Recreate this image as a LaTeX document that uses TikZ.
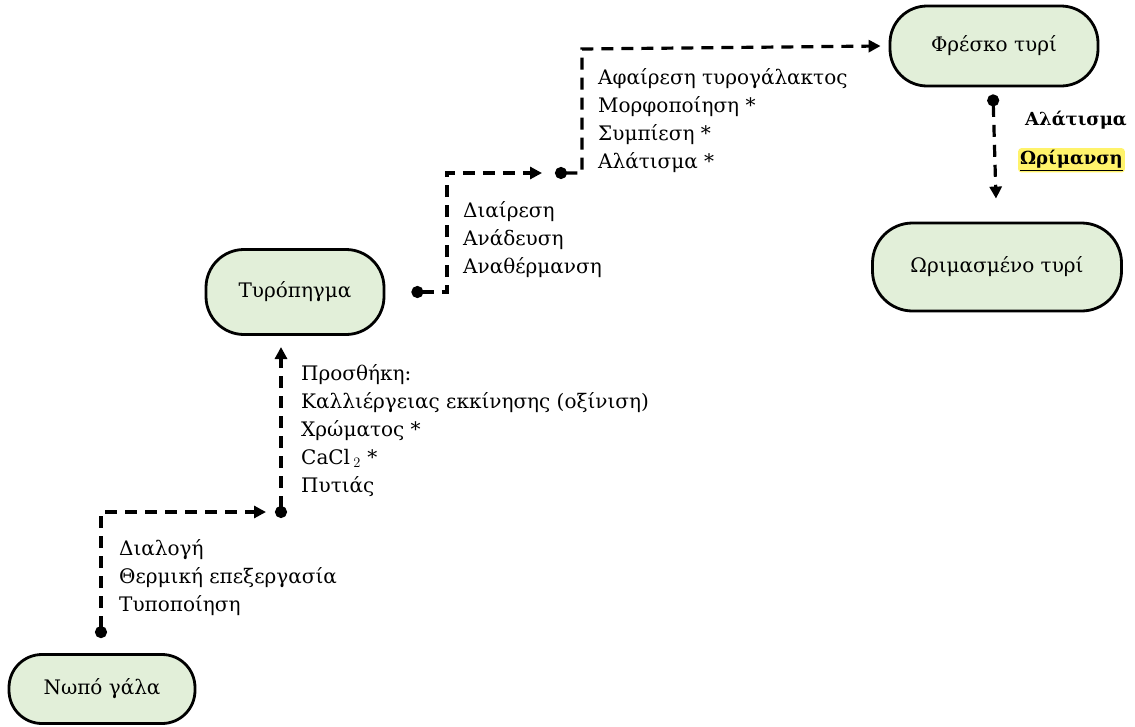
\documentclass[tikz,border=0pt]{standalone}
\usepackage{fontspec}
\setmainfont{DejaVu Serif}
\usetikzlibrary{arrows.meta}
\definecolor{nodefill}{HTML}{E2EFD9}
\definecolor{hlyellow}{HTML}{FFF36B}
\begin{document}
\begin{tikzpicture}[x=1pt,y=-1pt,
  stage/.style={draw, line width=2.8pt, fill=nodefill, rounded corners=38pt,
    minimum width=#1, minimum height=85pt, inner sep=0pt,
    font=\fontsize{20}{24}\selectfont},
  flow/.style={line width=3.2pt, dash pattern=on 12pt off 8pt,
    {Circle[length=12pt,width=12pt]}-{Triangle[length=12pt,width=12pt]}},
  lbl/.style={anchor=north west, align=left, inner sep=0pt,
    font=\fontsize{20}{28}\selectfont}]
\useasboundingbox (0,0) rectangle (1135,726);

% nodes
\node[stage=186pt, minimum height=69pt, rounded corners=33pt] (milk) at (102,689) {Νωπό γάλα};
\node[stage=178pt] (curd) at (295,292) {Τυρόπηγμα};
\node[stage=208pt, minimum height=80pt, rounded corners=37pt] (fresh) at (994,46) {Φρέσκο τυρί};
\node[stage=249pt, minimum height=88pt, rounded corners=40pt] (aged) at (997,267) {Ωριμασμένο τυρί};

% junction points
\coordinate (j1) at (266,512);
\coordinate (j2) at (281,518);
\coordinate (j2top) at (281,347);
\coordinate (c3) at (447,173);
\coordinate (j3) at (542,173);
\coordinate (j4) at (555,173);
\coordinate (c4) at (582,49);

% connectors
\draw[flow] ([shift={(-1pt,15pt)}]milk.north) |- (j1);
\draw[flow] (j2) -- (j2top);
\draw[flow] ([xshift=26pt]curd.east) -| (c3) -- (j3);
\draw[flow] (j4) -| (c4) -- ([xshift=-8pt]fresh.west);
\draw[flow] ([shift={(-1pt,-7pt)}]fresh.south) -- ([shift={(-1pt,23pt)}]aged.north);

% labels
\node[lbl] (l1) at (119,539) {Διαλογή\\Θερμική επεξεργασία\\Τυποποίηση};
\node[lbl] (l2) at (301,364) {Προσθήκη:\\Καλλιέργειας εκκίνησης (οξίνιση)\\Χρώματος *\\CaCl\,$_2$ *\\Πυτιάς};
\node[lbl] (l3) at (463,201) {Διαίρεση\\Ανάδευση\\Αναθέρμανση};
\node[lbl] (l4) at (598,68) {Αφαίρεση τυρογάλακτος\\Μορφοποίηση *\\Συμπίεση *\\Αλάτισμα *};
\node[lbl, font=\bfseries\fontsize{18}{20}\selectfont] (l5) at (1025,111) {Αλάτισμα};
\node[anchor=north west, inner sep=2pt, fill=hlyellow, rounded corners=3pt,
  font=\bfseries\fontsize{18}{20}\selectfont] (l6) at (1018,148) {\underline{Ωρίμανση}};
\end{tikzpicture}
\end{document}
